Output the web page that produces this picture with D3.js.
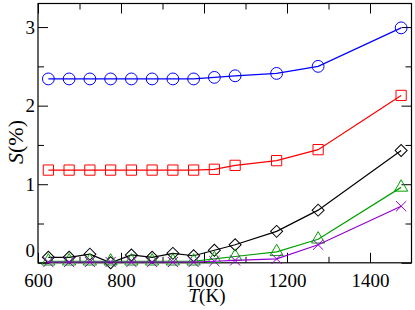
<!DOCTYPE html>
<html lang="en">
<head>
    <meta charset="UTF-8">
    <title>S vs T</title>
    <script src="https://d3js.org/d3.v7.min.js"></script>
    <style>
        * {
            margin: 0;
            padding: 0;
            box-sizing: border-box;
        }

        body {
            background-color: #fff;
        }

        svg text {
            font-family: "Liberation Serif", "DejaVu Serif", serif;
            fill: #000;
        }
    </style>
</head>
<body>
    <div id="chart"></div>

    <script>
        // data
        const temps = [625, 675, 725, 775, 825, 875, 925, 975, 1025, 1075, 1175, 1275, 1475];
        const circleSeries = [2.34, 2.34, 2.34, 2.34, 2.34, 2.34, 2.34, 2.34, 2.36, 2.38, 2.41, 2.50, 2.99];
        const squareSeries = [1.18, 1.18, 1.18, 1.18, 1.18, 1.18, 1.18, 1.18, 1.19, 1.24, 1.30, 1.44, 2.13];
        const diamondSeries = [0.07, 0.07, 0.11, 0.00, 0.10, 0.07, 0.12, 0.09, 0.16, 0.23, 0.40, 0.67, 1.43];
        const triangleSeries = [0.02, 0.02, 0.02, 0.02, 0.02, 0.02, 0.02, 0.02, 0.05, 0.08, 0.14, 0.30, 0.96];
        const crossSeries = [0.01, 0.01, 0.01, 0.01, 0.01, 0.01, 0.01, 0.01, 0.02, 0.03, 0.05, 0.23, 0.72];

        const xMajor = [600, 800, 1000, 1200, 1400];
        const xMinor = [700, 900, 1100, 1300];
        const yMajor = [0, 1, 2, 3];
        const yMinor = [0.5, 1.5, 2.5];

        const width = 415, height = 310;
        const plotLeft = 38, plotRight = 411.5, plotTop = 3.5, plotBottom = 262.8;

        const svg = d3.select("#chart").append("svg")
            .attr("width", width)
            .attr("height", height);

        const x = d3.scaleLinear().domain([600, 1500]).range([plotLeft, plotRight]);
        const y = d3.scaleLinear().domain([0, 3.3]).range([plotBottom, plotTop]);

        // ticks, all pointing inward
        function ticks(axis, g) {
            g.call(axis);
            g.select(".domain").remove();
            g.selectAll("line").attr("stroke", "#000").attr("stroke-width", 1);
        }

        ticks(d3.axisBottom(x).tickValues(xMajor).tickSize(-10).tickPadding(11).tickFormat(d3.format("d")),
            svg.append("g").attr("transform", `translate(0,${plotBottom})`));
        ticks(d3.axisBottom(x).tickValues(xMinor).tickSize(-6).tickFormat(""),
            svg.append("g").attr("transform", `translate(0,${plotBottom})`));
        ticks(d3.axisTop(x).tickValues(xMajor).tickSize(-10).tickFormat(""),
            svg.append("g").attr("transform", `translate(0,${plotTop})`));
        ticks(d3.axisTop(x).tickValues(xMinor).tickSize(-6).tickFormat(""),
            svg.append("g").attr("transform", `translate(0,${plotTop})`));

        const yAxisG = svg.append("g").attr("transform", `translate(${plotLeft},0)`);
        ticks(d3.axisLeft(y).tickValues(yMajor).tickSize(-10).tickPadding(3).tickFormat(d3.format("d")), yAxisG);
        ticks(d3.axisLeft(y).tickValues(yMinor).tickSize(-6).tickFormat(""),
            svg.append("g").attr("transform", `translate(${plotLeft},0)`));
        ticks(d3.axisRight(y).tickValues(yMajor).tickSize(-10).tickFormat(""),
            svg.append("g").attr("transform", `translate(${plotRight},0)`));
        ticks(d3.axisRight(y).tickValues(yMinor).tickSize(-6).tickFormat(""),
            svg.append("g").attr("transform", `translate(${plotRight},0)`));

        svg.selectAll(".tick text")
            .attr("font-size", "19px")
            .attr("font-family", "Liberation Serif, serif")
            .attr("fill", "#000");
        // the 0 label sits a bit above its tick in the original
        yAxisG.selectAll(".tick text").filter(d => d === 0).attr("dy", "-0.35em");

        // frame
        svg.append("rect")
            .attr("x", plotLeft).attr("y", plotTop)
            .attr("width", plotRight - plotLeft).attr("height", plotBottom - plotTop)
            .attr("fill", "none")
            .attr("stroke", "#000")
            .attr("stroke-width", 1.2);

        const series = [
            { values: circleSeries, color: "#0000ff", shape: "circle" },
            { values: squareSeries, color: "#ff0000", shape: "square" },
            { values: diamondSeries, color: "#000000", shape: "diamond" },
            { values: triangleSeries, color: "#00a000", shape: "triangle" },
            { values: crossSeries, color: "#9400d3", shape: "cross" }
        ];

        const line = d3.line()
            .x(d => x(d[0]))
            .y(d => y(d[1]));

        const symbols = {
            circle: d3.symbol().type(d3.symbolCircle).size(110),
            square: d3.symbol().type(d3.symbolSquare).size(105),
            diamond: d3.symbol().type(d3.symbolSquare).size(72),
            triangle: d3.symbol().type(d3.symbolTriangle).size(75),
            cross: d3.symbol().type(d3.symbolX).size(70)
        };

        series.forEach(s => {
            const pts = temps.map((t, i) => [t, s.values[i]]);

            svg.append("path")
                .datum(pts)
                .attr("d", line)
                .attr("fill", "none")
                .attr("stroke", s.color)
                .attr("stroke-width", 1.2);

            svg.selectAll(null)
                .data(pts)
                .enter()
                .append("path")
                .attr("d", symbols[s.shape])
                .attr("transform", d => `translate(${x(d[0])},${y(d[1])})` + (s.shape === "diamond" ? " rotate(45)" : ""))
                .attr("fill", "none")
                .attr("stroke", s.color)
                .attr("stroke-width", 1);
        });

        // axis titles
        const xt = svg.append("text")
            .attr("x", 207)
            .attr("y", 302)
            .attr("text-anchor", "middle")
            .attr("font-size", "19px");
        xt.append("tspan").attr("font-style", "italic").text("T");
        xt.append("tspan").text("(K)");

        const yt = svg.append("text")
            .attr("transform", "translate(23,142) rotate(-90)")
            .attr("text-anchor", "middle")
            .attr("font-size", "22px");
        yt.append("tspan").attr("font-style", "italic").text("S");
        yt.append("tspan").text("(%)");
    </script>
</body>
</html>
